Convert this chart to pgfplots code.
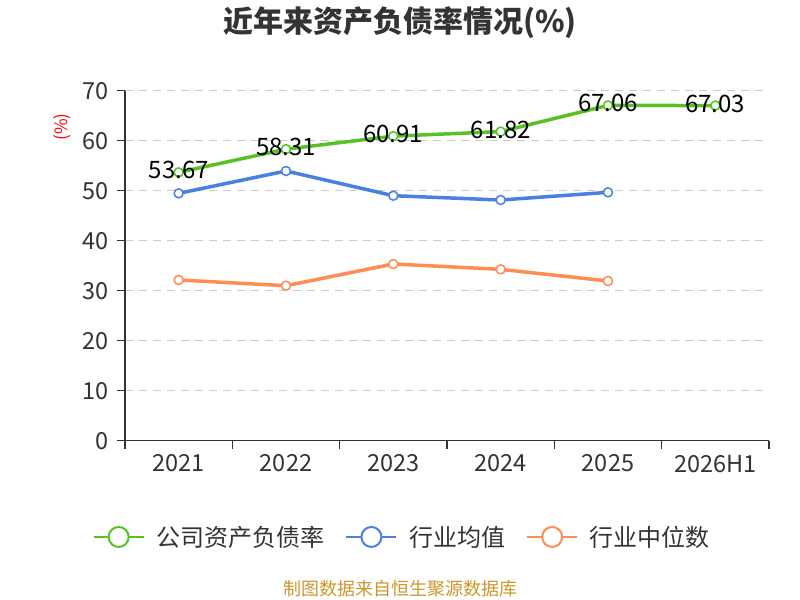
\documentclass[border=0pt]{standalone}
\usepackage{pgfplots}
\pgfplotsset{compat=1.18}
\usepackage{fontspec}
\setmainfont{Noto Sans CJK SC}
\definecolor{cgreen}{RGB}{88,194,35}
\definecolor{cblue}{RGB}{74,128,224}
\definecolor{corange}{RGB}{255,140,85}
\definecolor{ctext}{RGB}{51,51,51}
\definecolor{cgrid}{RGB}{204,204,204}
\definecolor{csrc}{RGB}{204,150,45}
\pgfplotstableread{
x y lab
0 53.67 53.67
1 58.31 58.31
2 60.91 60.91
3 61.82 61.82
4 67.06 67.06
5 67.03 67.03
}\company
\pgfplotstableread{
x y
0 49.47
1 53.94
2 49.00
3 48.14
4 49.67
}\avg
\pgfplotstableread{
x y
0 32.14
1 31.00
2 35.34
3 34.27
4 31.94
}\median
\begin{document}
\begin{tikzpicture}
\path[use as bounding box] (0bp,0bp) rectangle (800bp,600bp);
\node[font=\fontsize{30bp}{34bp}\selectfont\bfseries, text=ctext] at (400bp,577bp) {近年来资产负债率情况(\%)};
\node[font=\fontsize{18bp}{20bp}\selectfont, text=csrc] at (400bp,11bp) {制图数据来自恒生聚源数据库};
\begin{axis}[
  at={(125bp,159.3bp)}, anchor=south west,
  scale only axis, width=644bp, height=350bp,
  xmin=-0.5, xmax=5.5, ymin=0, ymax=70,
  clip=false,
  axis x line=bottom, axis y line=left,
  axis line style={-, ctext, line width=1.2bp},
  xtick={0,...,5},
  xticklabels={2021,2022,2023,2024,2025,2026H1},
  minor xtick={-0.5,0.5,...,5.5},
  ytick={0,10,...,70},
  tick align=outside,
  major tick length=8bp, minor tick length=8bp,
  x tick style={draw=none},
  minor x tick style={draw=ctext, line width=1.2bp},
  y tick style={draw=ctext, line width=1.2bp},
  /pgf/number format/assume math mode=true,
  tick label style={font=\fontsize{23.5bp}{26bp}\selectfont, text=ctext},
  yticklabel style={inner sep=0pt, xshift=-8bp},
  xticklabel style={inner sep=0pt, yshift=-6bp},
  ymajorgrids,
  major grid style={cgrid, line width=1bp, dash pattern=on 8bp off 6bp},
  ylabel={(\%)},
  ylabel style={at={(rel axis cs:-0.098,0.896)}, anchor=center, font=\fontsize{17bp}{19bp}\selectfont, text=red},
  legend columns=-1,
  legend style={draw=none, fill=none, at={(0.429,-0.275)}, anchor=center,
    font=\fontsize{24bp}{26bp}\selectfont, text=ctext,
    nodes={inner sep=0pt},
    /tikz/every even column/.append style={column sep=21bp}},
  every node near coord/.append style={anchor=center, yshift=2bp, font=\fontsize{24bp}{26bp}\selectfont, text=black},
]
\addplot[cgreen, line width=3.5bp, mark=*, mark size=4.5bp, mark options={fill=white, line width=1.5bp},
  nodes near coords, point meta=explicit symbolic,
  legend image code/.code={\draw[cgreen, line width=2bp] (0,0) -- (50bp,0); \draw[cgreen, line width=2bp, fill=white] (25bp,0) circle (10bp); \path (61bp,0);}]
  table[x=x, y=y, meta=lab] {\company};
\addlegendentry{公司资产负债率}
\addplot[cblue, line width=3.5bp, mark=*, mark size=4.5bp, mark options={fill=white, line width=1.5bp},
  legend image code/.code={\draw[cblue, line width=2bp] (0,0) -- (50bp,0); \draw[cblue, line width=2bp, fill=white] (25bp,0) circle (10bp); \path (61bp,0);}]
  table[x=x, y=y] {\avg};
\addlegendentry{行业均值}
\addplot[corange, line width=3.5bp, mark=*, mark size=4.5bp, mark options={fill=white, line width=1.5bp},
  legend image code/.code={\draw[corange, line width=2bp] (0,0) -- (50bp,0); \draw[corange, line width=2bp, fill=white] (25bp,0) circle (10bp); \path (61bp,0);}]
  table[x=x, y=y] {\median};
\addlegendentry{行业中位数}
\end{axis}
\end{tikzpicture}
\end{document}
